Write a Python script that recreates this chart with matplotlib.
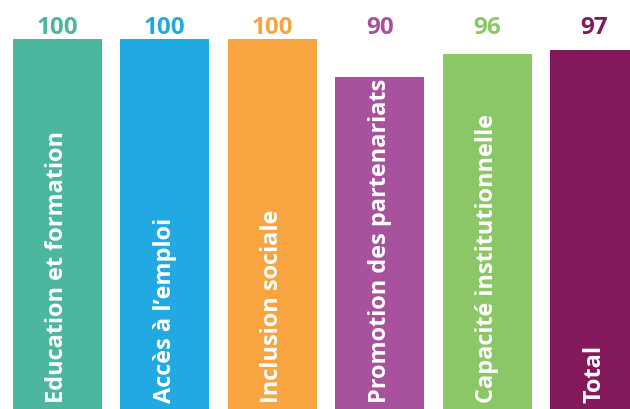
import numpy as np
import matplotlib.pyplot as plt

# data
categories = ["Education et formation", "Accès à l’emploi", "Inclusion sociale",
              "Promotion des partenariats", "Capacité institutionnelle", "Total"]
values = [100, 100, 100, 90, 96, 97]
value_labels = ["100", "100", "100", "90", "96", "97"]
colors = ["#4DB69E", "#22A9E1", "#F8A541", "#A8519D", "#8BC766", "#83195B"]

plt.rcParams['font.family'] = ['Open Sans', 'DejaVu Sans']

fig = plt.figure(figsize=(6.3, 4.09), dpi=100)
ax = fig.add_axes([0, 0, 1, 1])

x = np.arange(len(values))
ax.bar(x, values, width=0.83, color=colors)

for i in range(len(values)):
    # value label, all on one line above the tallest bar
    ax.text(x[i], 101.3, value_labels[i], ha='center', va='baseline',
            fontsize=17.5, fontweight='bold', color=colors[i])
    # category name inside the bar
    ax.text(x[i], 4.2, categories[i], rotation=90, ha='center', va='bottom',
            fontsize=16.9, fontweight='bold', color='white')

ax.set_xlim(-0.535, 5.33)
ax.set_ylim(2.6, 110.26)
ax.axis('off')

plt.savefig('out.png', dpi=100)
